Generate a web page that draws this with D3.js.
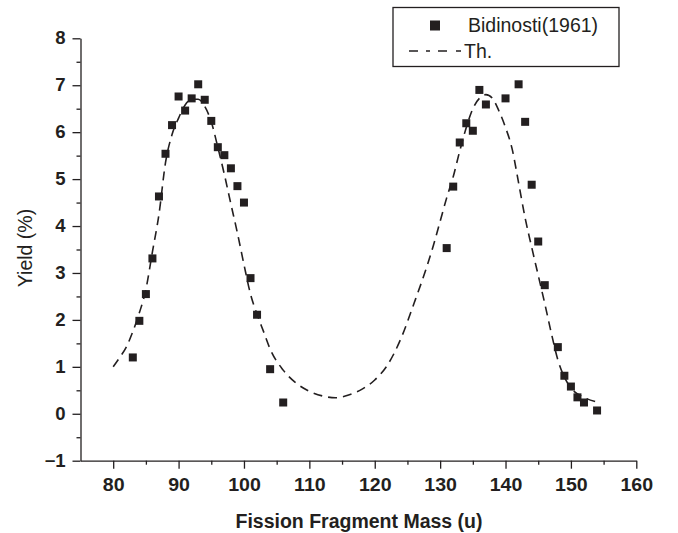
<!DOCTYPE html>
<html>
<head>
<meta charset="utf-8">
<script src="https://cdn.jsdelivr.net/npm/d3@7"></script>
<style>
  html, body { margin: 0; padding: 0; background: #fff; }
  svg { display: block; font-family: "Liberation Sans", Arial, Helvetica, sans-serif; }
  .axis path, .axis line { stroke: #231f20; stroke-width: 1.3; }
  .axis text { font-size: 17.5px; font-weight: bold; fill: #231f20; }
</style>
</head>
<body>
<div id="app"></div>
<script>
// measured data (Bidinosti 1961)
var expMass = [83, 84, 85, 86, 87, 88, 89, 90, 91, 92, 93, 94, 95, 96, 97, 98, 99, 100, 101, 102, 104, 106,
  131, 132, 133, 134, 135, 136, 137, 140, 142, 143, 144, 145, 146, 148, 149, 150, 151, 152, 154];
var expYield = [1.20, 1.98, 2.55, 3.31, 4.63, 5.54, 6.15, 6.76, 6.46, 6.72, 7.02, 6.69, 6.24, 5.68, 5.51, 5.23, 4.85, 4.50, 2.89, 2.11, 0.95, 0.24,
  3.53, 4.84, 5.78, 6.19, 6.03, 6.90, 6.59, 6.72, 7.02, 6.22, 4.88, 3.67, 2.74, 1.42, 0.81, 0.58, 0.35, 0.24, 0.07];

// theory curve (Th.)
var thMass = [80, 81, 82, 83, 84, 85, 86, 87, 88, 89, 90, 91, 92, 93, 94, 95, 96, 97, 98, 99, 100, 101, 102, 103, 104, 106, 108, 110, 112, 114, 116, 118, 120, 122, 124, 126, 128, 129, 130, 131, 132, 133, 134, 135, 136, 137, 138, 139, 140, 141, 142, 143, 144, 145, 146, 147, 148, 149, 150, 152, 154];
var thYield = [1.00, 1.20, 1.42, 1.75, 2.15, 2.65, 3.45, 4.25, 5.35, 5.95, 6.30, 6.58, 6.70, 6.70, 6.55, 6.22, 5.68, 5.10, 4.47, 3.85, 3.18, 2.55, 2.12, 1.75, 1.38, 0.93, 0.65, 0.48, 0.38, 0.34, 0.40, 0.52, 0.72, 1.05, 1.60, 2.35, 3.15, 3.60, 4.10, 4.60, 5.05, 5.60, 6.10, 6.50, 6.72, 6.80, 6.72, 6.45, 6.10, 5.65, 4.92, 4.17, 3.55, 2.95, 2.35, 1.72, 1.15, 0.78, 0.55, 0.35, 0.25];

var xTicks = [80, 90, 100, 110, 120, 130, 140, 150, 160];
var xMinor = [85, 95, 105, 115, 125, 135, 145, 155];
var yTicks = [-1, 0, 1, 2, 3, 4, 5, 6, 7, 8];
var yMinor = [-0.5, 0.5, 1.5, 2.5, 3.5, 4.5, 5.5, 6.5, 7.5];

var width = 678, height = 533;
var ink = "#231f20";

var svg = d3.select("#app").append("svg")
  .attr("width", width)
  .attr("height", height);

var x = d3.scaleLinear().domain([75, 160]).range([80.5, 636.3]);
var y = d3.scaleLinear().domain([-1, 8]).range([460.7, 38.3]);

// minor ticks first, then main axes on top
svg.append("g").attr("class", "axis")
  .attr("transform", "translate(0," + y(-1) + ")")
  .call(d3.axisBottom(x).tickValues(xMinor).tickSize(4).tickSizeOuter(0).tickFormat(""))
  .select(".domain").remove();

svg.append("g").attr("class", "axis")
  .attr("transform", "translate(" + x(75) + ",0)")
  .call(d3.axisLeft(y).tickValues(yMinor).tickSize(4).tickSizeOuter(0).tickFormat(""))
  .select(".domain").remove();

var xAxis = svg.append("g").attr("class", "axis")
  .attr("transform", "translate(0," + y(-1) + ")")
  .call(d3.axisBottom(x).tickValues(xTicks).tickSize(8).tickSizeOuter(0).tickPadding(10));
xAxis.selectAll("text").attr("transform", "scale(1.12,1)");

var yAxis = svg.append("g").attr("class", "axis")
  .attr("transform", "translate(" + x(75) + ",0)")
  .call(d3.axisLeft(y).tickValues(yTicks).tickSize(8).tickSizeOuter(0).tickPadding(6));
yAxis.selectAll("text").attr("transform", "scale(1.06,1)");

// axis titles
svg.append("text")
  .attr("x", 359).attr("y", 528)
  .attr("text-anchor", "middle")
  .style("font-size", "19.5px").style("font-weight", "bold").style("fill", ink)
  .text("Fission Fragment Mass (u)");

svg.append("text")
  .attr("transform", "translate(32,248) rotate(-90)")
  .attr("text-anchor", "middle")
  .style("font-size", "19.5px").style("fill", ink)
  .text("Yield (%)");

// theory curve
var th = thMass.map(function(m, i) { return [m, thYield[i]]; });
var line = d3.line()
  .x(function(d) { return x(d[0]); })
  .y(function(d) { return y(d[1]); })
  .curve(d3.curveMonotoneX);

svg.append("path")
  .datum(th)
  .attr("d", line)
  .attr("fill", "none")
  .attr("stroke", ink)
  .attr("stroke-width", 1.6)
  .attr("stroke-dasharray", "9,6");

// experimental points
var sz = 8;
svg.selectAll("rect.pt")
  .data(expMass)
  .enter()
  .append("rect")
  .attr("class", "pt")
  .attr("x", function(d) { return x(d) - sz / 2; })
  .attr("y", function(d, i) { return y(expYield[i]) - sz / 2; })
  .attr("width", sz)
  .attr("height", sz)
  .attr("fill", ink);

// legend
var lg = svg.append("g");
lg.append("rect")
  .attr("x", 393).attr("y", 7.5)
  .attr("width", 226).attr("height", 59)
  .attr("fill", "#fff").attr("stroke", ink).attr("stroke-width", 1.3);
lg.append("rect")
  .attr("x", 430).attr("y", 20.5)
  .attr("width", 10).attr("height", 10)
  .attr("fill", ink);
lg.append("text")
  .attr("x", 468).attr("y", 31.5)
  .style("font-size", "19.5px").style("fill", ink)
  .text("Bidinosti(1961)");
lg.append("line")
  .attr("x1", 409).attr("x2", 461)
  .attr("y1", 51).attr("y2", 51)
  .attr("stroke", ink).attr("stroke-width", 1.6)
  .attr("stroke-dasharray", "9,8,4,8,9");
lg.append("text")
  .attr("x", 464).attr("y", 58)
  .style("font-size", "19.5px").style("fill", ink)
  .text("Th.");
</script>
</body>
</html>
